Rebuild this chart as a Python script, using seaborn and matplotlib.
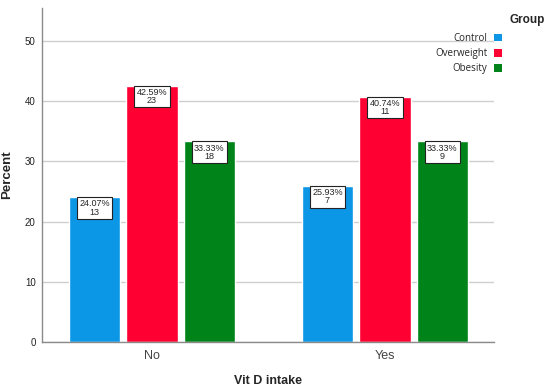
import pandas as pd
import numpy as np
import matplotlib.pyplot as plt
import seaborn as sns
from matplotlib.patches import Patch

# data
intake = ["No", "Yes"]
groups = ["Control", "Overweight", "Obesity"]
pct_no = [24.07, 42.59, 33.33]
pct_yes = [25.93, 40.74, 33.33]
n_no = [13, 23, 18]
n_yes = [7, 11, 9]

colors = ["#0C96E6", "#FF0033", "#00841A"]

df = pd.DataFrame({
    "Vit D intake": np.repeat(intake, len(groups)),
    "Group": groups * len(intake),
    "Percent": pct_no + pct_yes,
    "Count": n_no + n_yes,
})

sns.set_style("white")
plt.rcParams["font.family"] = ["Liberation Sans", "DejaVu Sans"]

fig = plt.figure(figsize=(5.5, 3.89), dpi=100)
ax = fig.add_axes([42 / 550, 1 - 342 / 389, (494 - 42) / 550, (342 - 8) / 389])

sns.barplot(data=df, x="Vit D intake", y="Percent", hue="Group",
            hue_order=groups, palette=colors, width=0.74, gap=0.11,
            saturation=1, ax=ax, legend=False, errorbar=None)

ax.set_xlim(-0.472, 1.468)
ax.set_ylim(0, 55.5)
ax.set_yticks([0, 10, 20, 30, 40, 50])
ax.yaxis.grid(True, color="#CFCFCF", linewidth=1)
ax.set_axisbelow(True)
for s in ["top", "right"]:
    ax.spines[s].set_visible(False)
for s in ["left", "bottom"]:
    ax.spines[s].set_color("#8A8A8A")
    ax.spines[s].set_linewidth(1)
ax.tick_params(axis="both", length=0)
ax.tick_params(axis="y", labelsize=7, colors="#222222", pad=4.5)
ax.tick_params(axis="x", labelsize=9, colors="#444444", pad=6)

ax.set_xlabel("Vit D intake", fontsize=9, fontweight="bold")
ax.set_ylabel("Percent", fontsize=9.5, fontweight="bold")
ax.xaxis.set_label_coords(0.5, -0.099)
ax.yaxis.set_label_coords(-0.063, 0.5)

# value boxes
for container, g in zip(ax.containers, groups):
    sub = df[df["Group"] == g]
    for bar, p, n in zip(container, sub["Percent"], sub["Count"]):
        xc = bar.get_x() + bar.get_width() / 2
        ax.annotate(f"{p:.2f}%\n{n}", (xc, bar.get_height()),
                    xytext=(0, -1.5), textcoords="offset points",
                    ha="center", va="top", fontsize=6.5, linespacing=0.9,
                    bbox=dict(boxstyle="square,pad=0.25", fc="white",
                              ec="#222222", lw=0.8))

# legend to the right, swatches after the labels
handles = [Patch(facecolor=c, edgecolor="none") for c in colors]
fig.legend(handles, groups, loc="upper right", bbox_to_anchor=(511 / 550, 1 - 24 / 389),
           frameon=False, markerfirst=False, handlelength=0.85,
           handleheight=0.85, handletextpad=0.7, labelspacing=0.45,
           prop={"family": ["Open Sans", "DejaVu Sans"], "size": 7})
fig.text(527 / 550, 1 - 20 / 389, "Group", fontsize=8.5, fontweight="bold",
         ha="center", va="center")

fig.savefig("out.png", dpi=100)
